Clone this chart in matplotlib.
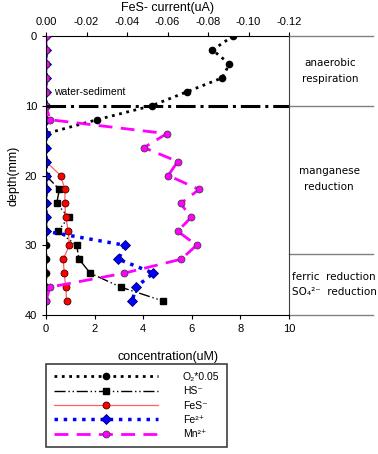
import matplotlib
matplotlib.use("Agg")
from matplotlib import pyplot as plt
import numpy as np

plt.rcParams['font.family'] = ['Liberation Sans', 'DejaVu Sans']

# profundidad (mm)
depth = [0, 2, 4, 6, 8, 10, 12, 14, 16, 18, 20, 22, 24, 26, 28, 30, 32, 34, 36, 38]

o2 = [7.7, 6.85, 7.55, 7.25, 5.8, 4.35, 2.1, 0, 0, 0, 0, 0, 0, 0, 0, 0, 0, 0, 0, 0]
fes = [0, 0, 0, 0, 0, 0, 0, 0, 0, 0, 0.6, 0.78, 0.78, 0.81, 0.92, 0.96, 0.71, 0.75, 0.81, 0.85]
fe = [0, 0, 0, 0, 0, 0, 0, 0, 0, 0, 0, 0, 0, 0, 0, 3.25, 2.98, 4.42, 3.7, 3.55]
mn = [0, 0, 0, 0, 0, 0, 0.16, 4.97, 4.03, 5.42, 5.03, 6.3, 5.54, 5.97, 5.42, 6.2, 5.56, 3.22, 0.16, 0]

hs_depth = [20, 22, 24, 26, 28, 30, 32, 34, 36, 38]
hs = [0, 0.55, 0.44, 0.93, 0.49, 1.26, 1.36, 1.82, 3.07, 4.83]

# interfase agua-sedimento
interfase_x = [0, 10]
interfase_depth = 10

# zonas
zona_limites = [0, 10, 31.2, 40]
zona_textos = [("anaerobic\nrespiration", 1.17, 5),
               ("manganese\nreduction", 1.165, 20.5),
               ("ferric  reduction\nSO\u2084\u00b2\u207b  reduction", 1.185, 35.6)]

fig = plt.figure(figsize=(3.78, 4.54), dpi=100)
ax = fig.add_axes([46/378, 1 - 315/454, 243/378, 279/454])

ax.plot(o2, depth, color='black', linestyle=':', linewidth=2, marker='o',
        markersize=4.5, label='O\u2082*0.05')
ax.plot(hs, hs_depth, color='black', linewidth=1, dashes=(8, 2, 1, 2, 1, 2),
        marker='s', markersize=5, label='HS\u207b')
ax.plot(fes, depth, color='#ff6060', linewidth=0.9, marker='o', markersize=5,
        markerfacecolor='red', markeredgecolor='#400000', markeredgewidth=0.6, label='FeS\u207b')
ax.plot(fe, depth, color='blue', linestyle=':', linewidth=2.5, marker='D',
        markersize=5, markerfacecolor='blue', markeredgecolor='#000060', markeredgewidth=0.6,
        label='Fe\u00b2\u207a')
ax.plot(mn, depth, color='#ff00ff', linewidth=2, dashes=(5, 3), marker='o',
        markersize=5, markerfacecolor='#ff00ff', markeredgecolor='#404040',
        markeredgewidth=0.6, label='Mn\u00b2\u207a')
ax.plot(interfase_x, [interfase_depth] * 2, color='black', linestyle='-.', linewidth=2.2,
        clip_on=False)

ax.text(0.35, 8.4, 'water-sediment', fontsize=7.5)

ax.set_xlim(0, 10)
ax.set_ylim(40, 0)
ax.set_xticks([0, 2, 4, 6, 8, 10])
ax.set_yticks([0, 10, 20, 30, 40])
ax.tick_params(labelsize=8, length=3, width=0.8)
ax.set_xlabel('concentration(uM)', fontsize=9, labelpad=12)
ax.set_ylabel('depth(mm)', fontsize=9, labelpad=4)
for s in ['left', 'bottom', 'right']:
    ax.spines[s].set_linewidth(0.8)
ax.spines['right'].set_color('#404040')
ax.spines['top'].set_visible(False)

# eje superior: corriente FeS
sec = ax.secondary_xaxis('top', functions=(lambda c: -c * 0.012, lambda i: -i / 0.012))
sec.set_xticks([0, -0.02, -0.04, -0.06, -0.08, -0.10, -0.12])
sec.set_xticklabels(['0.00', '-0.02', '-0.04', '-0.06', '-0.08', '-0.10', '-0.12'])
sec.tick_params(labelsize=8, length=3, width=0.8)
sec.set_xlabel('FeS- current(uA)', fontsize=9, labelpad=4)
sec.spines['top'].set_linewidth(0.8)

# zonas a la derecha
tr = ax.get_yaxis_transform()
for z in zona_limites:
    ax.plot([1.0, 1.345], [z, z], color='#808080', linewidth=1, transform=tr, clip_on=False)
for txt, zx, zy in zona_textos:
    ax.text(zx, zy, txt, transform=tr, ha='center', va='center', fontsize=7.5,
            linespacing=1.7, family=['DejaVu Sans'])

leg = fig.legend(loc='upper left', bbox_to_anchor=(46/378, 1 - 364/454), fontsize=7.5,
                 handlelength=10, handletextpad=2.4, labelspacing=0.42, numpoints=1,
                 fancybox=False, edgecolor='#404040', borderpad=0.75, borderaxespad=0,
                 framealpha=1)
leg.get_frame().set_linewidth(1.2)

fig.savefig('out.png', dpi=100)
